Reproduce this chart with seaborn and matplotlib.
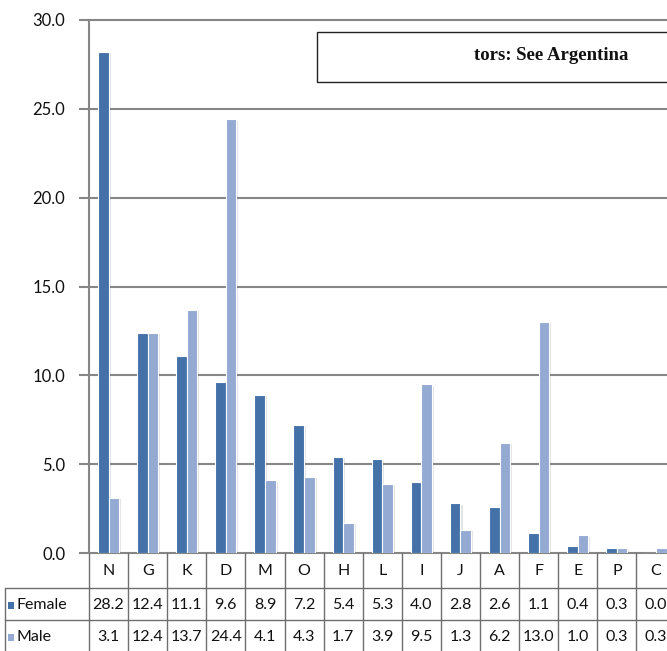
import matplotlib
matplotlib.use("Agg")
import matplotlib.pyplot as plt
import matplotlib.transforms as mtransforms
import matplotlib.patheffects as pe
from matplotlib.patches import Rectangle
import seaborn as sns
import pandas as pd

categories = ["N", "G", "K", "D", "M", "O", "H", "L", "I", "J", "A", "F", "E", "P", "C"]
female = [28.2, 12.4, 11.1, 9.6, 8.9, 7.2, 5.4, 5.3, 4.0, 2.8, 2.6, 1.1, 0.4, 0.3, 0.0]
male = [3.1, 12.4, 13.7, 24.4, 4.1, 4.3, 1.7, 3.9, 9.5, 1.3, 6.2, 13.0, 1.0, 0.3, 0.3]
series = ["Female", "Male"]
yticks = [0, 5, 10, 15, 20, 25, 30]
title_text = "tors: See Argentina"

colors = {"Female": "#4472A8", "Male": "#94AAD2"}
grid_c = "#868686"

sns.set_theme(style="white")
plt.rcParams["font.family"] = ["Lato", "DejaVu Sans"]

W, H = 667, 651
fig = plt.figure(figsize=(W / 100, H / 100), dpi=100)
left_px, right_px, top_px, bot_px = 89, 675.5, 20, 553
ax = fig.add_axes([left_px / W, 1 - bot_px / H, (right_px - left_px) / W, (bot_px - top_px) / H])

df = pd.DataFrame({
    "cat": categories * 2,
    "val": female + male,
    "series": ["Female"] * len(categories) + ["Male"] * len(categories),
})
sns.barplot(data=df, x="cat", y="val", hue="series", order=categories, hue_order=series,
            palette=colors, width=0.54, ax=ax, legend=False, edgecolor="white", linewidth=0.8,
            saturation=1, zorder=3)
for p in ax.patches:
    p.set_path_effects([pe.SimplePatchShadow(offset=(1.5, -1), alpha=0.18, shadow_rgbFace="#666666"), pe.Normal()])

ax.set_xlim(-0.5, len(categories) - 0.5)
ax.set_ylim(0, 30)
ax.set_yticks(yticks)
ax.set_yticklabels([f"{v:.1f}" for v in yticks], fontsize=12, color="#111111")
ax.set_xticks([])
ax.set_xlabel("")
ax.set_ylabel("")
for s in ["top", "right", "bottom"]:
    ax.spines[s].set_visible(False)
ax.spines["left"].set_color(grid_c)
ax.spines["left"].set_linewidth(1.5)
ax.tick_params(axis="y", length=7, width=1.5, color=grid_c, left=True, pad=10)
for v in yticks:
    ax.axhline(v, color=grid_c, linewidth=1.5, zorder=1, clip_on=False)

# data table below
tr = mtransforms.blended_transform_factory(ax.transData, fig.transFigure)
def fy(px):
    return 1 - px / H

line_kw = dict(color="#6f6f6f", linewidth=1.0, clip_on=False)
row_lines = [588, 620]
xl_left = -0.5 - (left_px - 5) / ((right_px - left_px) / len(categories))
for r in row_lines:
    ax.plot([xl_left, len(categories) - 0.5], [fy(r), fy(r)], transform=tr, **line_kw)
for i in range(len(categories) + 1):
    ax.plot([i - 0.5, i - 0.5], [fy(bot_px), fy(H)], transform=tr, **line_kw)
ax.plot([xl_left, xl_left], [fy(588), fy(H)], transform=tr, **line_kw)

fs = 11.5
for i, c in enumerate(categories):
    ax.text(i, fy(571), c, transform=tr, ha="center", va="center", fontsize=fs, color="#111111")
    ax.text(i, fy(605), f"{female[i]:.1f}", transform=tr, ha="center", va="center", fontsize=fs, color="#111111")
    ax.text(i, fy(637), f"{male[i]:.1f}", transform=tr, ha="center", va="center", fontsize=fs, color="#111111")

for name, yc in zip(series, [605, 637]):
    fig.patches.append(Rectangle((8 / W, fy(yc + 3.5)), 6 / W, 7 / H, transform=fig.transFigure,
                                 facecolor=colors[name], edgecolor="none"))
    fig.text(17 / W, fy(yc), name, ha="left", va="center", fontsize=fs, color="#111111")

# title box (cropped)
fig.patches.append(Rectangle((317 / W, fy(82)), 400 / W, 50 / H, transform=fig.transFigure,
                             facecolor="white", edgecolor="#222222", linewidth=1.0, zorder=5))
fig.text(551 / W, fy(56), title_text, ha="center", va="center", fontsize=13.5, fontweight="bold",
         family="Liberation Serif", color="#111111", zorder=6)

fig.savefig("out.png", dpi=100)
